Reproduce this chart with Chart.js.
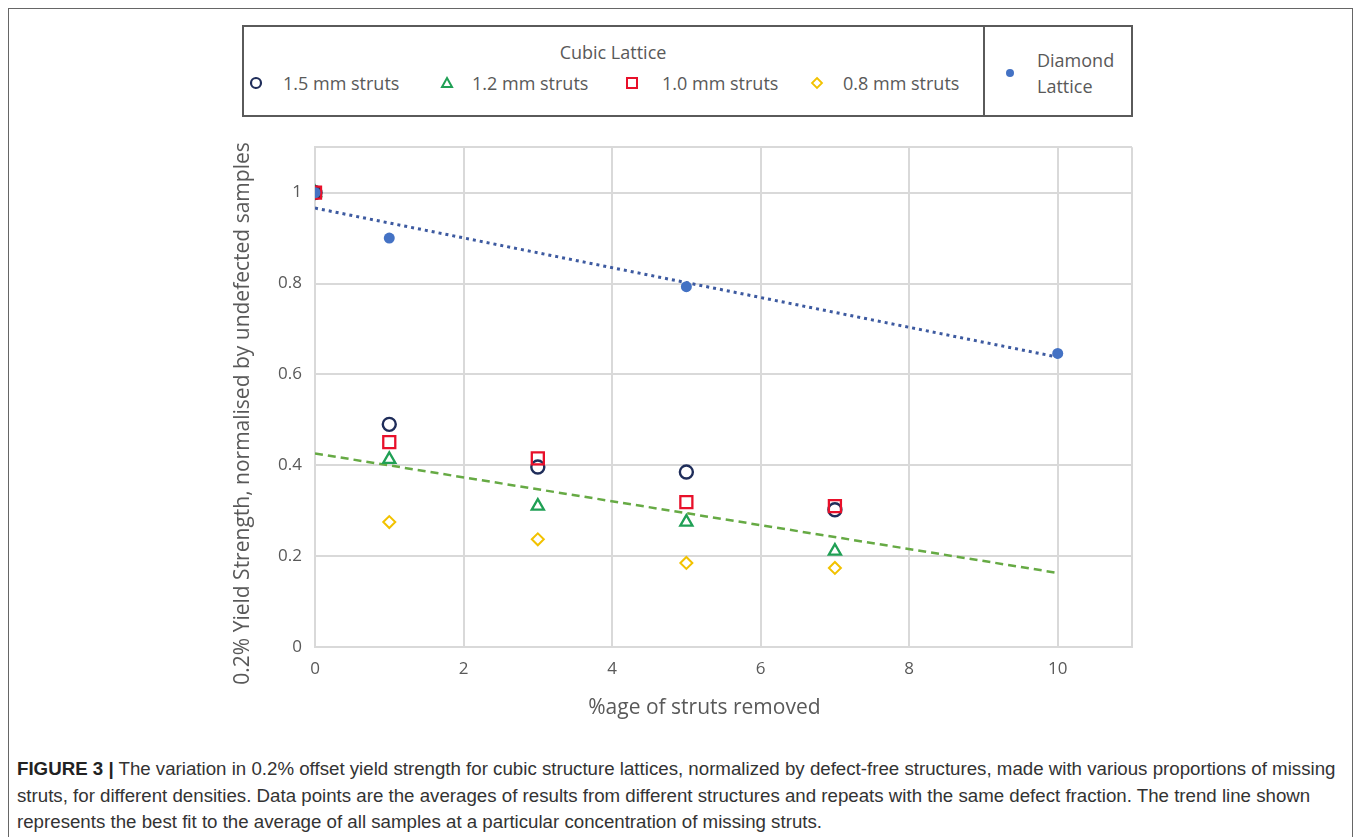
<!DOCTYPE html>
<html>
<head>
<meta charset="utf-8">
<script src="https://cdn.jsdelivr.net/npm/chart.js@4.4.1/dist/chart.umd.min.js"></script>
<style>
  body { margin: 0; background: #fff; width: 1360px; height: 837px; overflow: hidden; position: relative; }
  #frame { position: absolute; left: 8px; top: 8px; width: 1345px; height: 860px; border: 1.5px solid #666; border-bottom: none; box-sizing: border-box; }
  .abs { position: absolute; }
  #legend { left: 242px; top: 25px; width: 891px; height: 92px; border: 2px solid #5a5a5a; box-sizing: border-box; }
  #divider { left: 983px; top: 25px; width: 2px; height: 92px; background: #5a5a5a; }
  .lg { font-family: "Open Sans", sans-serif; font-size: 18px; color: #595959; white-space: nowrap; transform: translateY(-50%); line-height: 1; }
  .mk { transform: translate(-50%, -50%); line-height: 0; }
  #chartBox { left: 200px; top: 124px; width: 950px; height: 606px; }
  #caption { left: 17px; top: 756px; width: 1340px; font-family: "Liberation Sans", Arial, sans-serif; font-size: 18.7px; line-height: 26.5px; color: #333; white-space: nowrap; }
  #caption b { color: #222; }
</style>
</head>
<body>
<div id="frame"></div>

<div id="legend" class="abs"></div>
<div id="divider" class="abs"></div>
<div class="abs lg" style="left:613px;top:52px;transform:translate(-50%,-50%)">Cubic Lattice</div>

<div class="abs mk" style="left:256px;top:83px"><svg width="16" height="16"><circle cx="8" cy="8" r="5" fill="none" stroke="#1f2d5a" stroke-width="2.2"/></svg></div>
<div class="abs lg" style="left:283px;top:83px">1.5 mm struts</div>
<div class="abs mk" style="left:447px;top:83px"><svg width="16" height="16"><polygon points="8,3 13,12 3,12" fill="none" stroke="#20a055" stroke-width="2"/></svg></div>
<div class="abs lg" style="left:472px;top:83px">1.2 mm struts</div>
<div class="abs mk" style="left:632px;top:83px"><svg width="16" height="16"><rect x="3" y="3" width="10" height="10" fill="none" stroke="#e8102a" stroke-width="2"/></svg></div>
<div class="abs lg" style="left:662px;top:83px">1.0 mm struts</div>
<div class="abs mk" style="left:817px;top:83px"><svg width="16" height="16"><polygon points="8,3 13,8 8,13 3,8" fill="none" stroke="#f2c200" stroke-width="1.8"/></svg></div>
<div class="abs lg" style="left:843px;top:83px">0.8 mm struts</div>

<div class="abs mk" style="left:1010px;top:73px"><svg width="12" height="12"><circle cx="6" cy="6" r="4" fill="#4472c4"/></svg></div>
<div class="abs lg" style="left:1037px;top:60px">Diamond</div>
<div class="abs lg" style="left:1037px;top:86px">Lattice</div>

<div id="chartBox" class="abs"><canvas id="chart"></canvas></div>

<div id="caption" class="abs"><b>FIGURE 3 |</b> The variation in 0.2% offset yield strength for cubic structure lattices, normalized by defect-free structures, made with various proportions of missing<br>struts, for different densities. Data points are the averages of results from different structures and repeats with the same defect fraction. The trend line shown<br>represents the best fit to the average of all samples at a particular concentration of missing struts.</div>

<script>
// x = % of struts removed
const cubicX = [0, 1, 3, 5, 7];
const struts15 = [1.0, 0.490, 0.396, 0.385, 0.302];
const struts12 = [1.0, 0.413, 0.310, 0.275, 0.211];
const struts10 = [1.0, 0.451, 0.415, 0.319, 0.310];
const struts08 = [1.0, 0.275, 0.237, 0.185, 0.174];

const diamondX = [0, 1, 5, 10];
const diamondY = [1.0, 0.900, 0.793, 0.646];

// trend line end points
const diamondTrendX = [0, 10];
const diamondTrendY = [0.966, 0.638];
const cubicTrendX = [0, 10];
const cubicTrendY = [0.426, 0.163];

const xTicks = [0, 2, 4, 6, 8, 10, 11];   // 11 = plot edge, no label
const yTicks = [0, 0.2, 0.4, 0.6, 0.8, 1.0, 1.1]; // 1.1 = plot edge, no label

const pts = (xs, ys) => xs.map((x, i) => ({ x: x, y: ys[i] }));

const tickFont = { family: "'Open Sans', sans-serif", size: 17 };
const titleFont = { family: "'Open Sans', sans-serif", size: 21 };
const GRID = '#d9d9d9';
const NB = '\u00a0';

function openMarker(label, data, style, color, radius, width) {
    return {
        label: label, data: data, showLine: false,
        pointStyle: style, pointRadius: radius, pointHoverRadius: radius,
        pointBorderColor: color, pointBackgroundColor: 'rgba(0,0,0,0)',
        pointBorderWidth: width, borderColor: color
    };
}

// first dataset is drawn on top
new Chart(document.getElementById('chart'), {
    type: 'scatter',
    data: {
        datasets: [
            {
                label: 'Diamond Lattice', data: pts(diamondX, diamondY), showLine: false,
                pointStyle: 'circle', pointRadius: 5.5, pointBackgroundColor: '#4472c4',
                pointBorderColor: '#4472c4', pointBorderWidth: 0
            },
            openMarker('1.0 mm struts', pts(cubicX, struts10), 'rect', '#e8102a', 8.5, 2.3),
            openMarker('1.5 mm struts', pts(cubicX, struts15), 'circle', '#1f2d5a', 6.5, 2.4),
            openMarker('1.2 mm struts', pts(cubicX, struts12), 'triangle', '#20a055', 7, 2.3),
            openMarker('0.8 mm struts', pts(cubicX, struts08), 'rectRot', '#f2c200', 6, 2),
            {
                label: 'Diamond trend', data: pts(diamondTrendX, diamondTrendY), showLine: true,
                borderColor: '#3d5aa0', borderWidth: 3, borderDash: [3, 4], pointRadius: 0, order: 10
            },
            {
                label: 'Cubic trend', data: pts(cubicTrendX, cubicTrendY), showLine: true,
                borderColor: '#66aa44', borderWidth: 2.5, borderDash: [8, 5], pointRadius: 0, order: 9
            }
        ]
    },
    options: {
        animation: false,
        responsive: true,
        maintainAspectRatio: false,
        layout: { padding: { top: 6, right: 18, left: 0, bottom: 0 } },
        plugins: { legend: { display: false }, tooltip: { enabled: false } },
        scales: {
            x: {
                type: 'linear', min: 0, max: 11,
                afterBuildTicks: s => { s.ticks = xTicks.map(v => ({ value: v })); },
                afterFit: s => { s.height = 83; },
                ticks: { font: tickFont, color: '#595959', padding: 12, maxRotation: 0,
                         callback: v => (v === 11 ? '' : String(v)) },
                grid: { color: GRID, lineWidth: 2, drawTicks: false },
                border: { color: GRID, width: 2 },
                title: { display: true, text: '%age of struts removed' + NB.repeat(7), font: titleFont, color: '#595959',
                         padding: { top: 0, bottom: 9 } }
            },
            y: {
                type: 'linear', min: 0, max: 1.1,
                afterBuildTicks: s => { s.ticks = yTicks.map(v => ({ value: v })); },
                afterFit: s => { s.width = 115; },
                ticks: { font: tickFont, color: '#595959', padding: 13,
                         callback: v => (v === 1.1 ? '' : String(+v.toFixed(1))) },
                grid: { color: GRID, lineWidth: 2, drawTicks: false },
                border: { color: GRID, width: 2 },
                title: { display: true, text: '0.2% Yield Strength, normalised by undefected samples' + NB.repeat(6),
                         font: titleFont, color: '#595959', padding: { top: 30, bottom: 0 } }
            }
        }
    }
});
</script>
</body>
</html>
